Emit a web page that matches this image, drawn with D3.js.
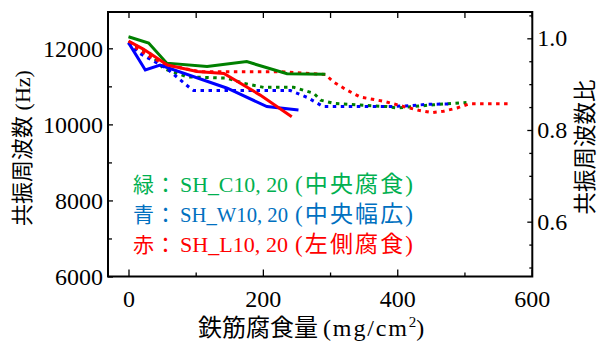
<!DOCTYPE html>
<html><head><meta charset="utf-8">
<script src="https://cdn.jsdelivr.net/npm/d3@7"></script>
<style>
body{margin:0;background:#fff;}
text{font-family:"Liberation Serif","Noto Sans CJK JP",serif;}
</style></head>
<body><svg id="c" width="604" height="343"></svg>
<script>
// Solid lines: resonance frequency (Hz), left axis
const greenHzX = [0, 30, 57, 117, 176, 236, 293];
const greenHzY = [12305, 12140, 11610, 11520, 11650, 11330, 11320];
const blueHzX  = [0, 25, 47, 147, 206, 253];
const blueHzY  = [12150, 11430, 11560, 10950, 10470, 10380];
const redHzX   = [0, 22, 58, 102, 142, 196, 243];
const redHzY   = [12190, 11980, 11560, 11390, 11340, 10770, 10200];
// Dotted lines: resonance frequency ratio, right axis
const greenRX = [0, 32, 52, 87, 147, 171, 201, 246, 276, 286, 306, 385, 400, 454, 503];
const greenRY = [0.993, 0.967, 0.934, 0.916, 0.913, 0.902, 0.893, 0.893, 0.880, 0.865, 0.858, 0.851, 0.848, 0.855, 0.860];
const blueRX  = [0, 17, 57, 92, 97, 166, 241, 266, 290, 385, 420, 445, 479];
const blueRY  = [0.99, 0.967, 0.934, 0.891, 0.886, 0.886, 0.886, 0.871, 0.851, 0.851, 0.853, 0.856, 0.857];
const redRX   = [0, 32, 57, 107, 226, 293, 305, 325, 345, 382, 410, 432, 452, 469, 489, 507, 569];
const redRY   = [0.99, 0.960, 0.942, 0.927, 0.927, 0.921, 0.905, 0.887, 0.872, 0.862, 0.851, 0.843, 0.838, 0.841, 0.848, 0.857, 0.857];

const xTicks = [0, 200, 400, 600];
const xMinor = [100, 300, 500];
const yLeftTicks = [6000, 8000, 10000, 12000];
const yLeftMinor = [7000, 9000, 11000];
const yRightTicks = [0.6, 0.8, 1.0];
const yRightMinor = [0.5, 0.55, 0.65, 0.7, 0.75, 0.85, 0.9, 0.95, 1.05];

const legendKey = ["緑", "青", "赤"];
const legendName = ["SH_C10, 20", "SH_W10, 20", "SH_L10, 20"];
const legendNote = ["(中央腐食)", "(中央幅広)", "(左側腐食)"];
const legendColor = ["#00b050", "#0070c0", "#ff0000"];
const colors = {green: "#008000", blue: "#0000ff", red: "#ff0000"};

const L = 108, R = 532.3, T = 12, B = 276.5;
const svg = d3.select("#c");
const x = d3.scaleLinear().domain([-30.5, 601]).range([L, R]);
const yL = d3.scaleLinear().domain([6000, 12955]).range([B, T]);
const yR = d3.scaleLinear().domain([0.4804, 1.0574]).range([B, T]);

const lineL = d3.line().x(d => x(d[0])).y(d => yL(d[1]));
const lineR = d3.line().x(d => x(d[0])).y(d => yR(d[1]));
const zip = (a, b) => a.map((v, i) => [v, b[i]]);

const g = svg.append("g");
function drawR(xs, ys, c){
  g.append("path").attr("d", lineR(zip(xs, ys))).attr("fill","none")
   .attr("stroke", c).attr("stroke-width", 3).attr("stroke-dasharray","3.5,4.5");
}
function drawL(xs, ys, c){
  g.append("path").attr("d", lineL(zip(xs, ys))).attr("fill","none")
   .attr("stroke", c).attr("stroke-width", 3).attr("stroke-linejoin","miter");
}
drawR(greenRX, greenRY, colors.green);
drawR(blueRX, blueRY, colors.blue);
drawR(redRX, redRY, colors.red);
drawL(greenHzX, greenHzY, colors.green);
drawL(blueHzX, blueHzY, colors.blue);
drawL(redHzX, redHzY, colors.red);

// Axes
const fs = 24;
const axB = svg.append("g").attr("transform",`translate(0,${B})`)
  .call(d3.axisBottom(x).tickValues(xTicks).tickSize(-7).tickPadding(13).tickFormat(d3.format("d")));
const axBm = svg.append("g").attr("transform",`translate(0,${B})`)
  .call(d3.axisBottom(x).tickValues(xMinor).tickSize(-4).tickFormat(""));
const axT = svg.append("g").attr("transform",`translate(0,${T})`)
  .call(d3.axisTop(x).tickValues(xTicks.concat(xMinor)).tickSize(-6).tickFormat(""));
const axL = svg.append("g").attr("transform",`translate(${L},0)`)
  .call(d3.axisLeft(yL).tickValues(yLeftTicks).tickSize(-5).tickPadding(4).tickFormat(d3.format("d")));
const axLm = svg.append("g").attr("transform",`translate(${L},0)`)
  .call(d3.axisLeft(yL).tickValues(yLeftMinor).tickSize(-4).tickFormat(""));
const axR = svg.append("g").attr("transform",`translate(${R},0)`)
  .call(d3.axisRight(yR).tickValues(yRightTicks).tickSize(-5).tickPadding(5).tickFormat(d3.format(".1f")));
const axRm = svg.append("g").attr("transform",`translate(${R},0)`)
  .call(d3.axisRight(yR).tickValues(yRightMinor).tickSize(-3).tickFormat(""));
[axB,axBm,axT,axL,axLm,axR,axRm].forEach(a=>{
  a.select(".domain").remove();
  a.selectAll("line").attr("stroke","#000").attr("stroke-width",1.3);
  a.selectAll("text").attr("font-size",fs).attr("fill","#000")
   .attr("font-family",'"Liberation Serif",serif');
});
axL.selectAll("text").attr("dx","-1");
svg.append("rect").attr("x",L).attr("y",T).attr("width",R-L).attr("height",B-T)
  .attr("fill","none").attr("stroke","#000").attr("stroke-width",2);

// Axis titles
const xt = svg.append("text").attr("y", 336).attr("font-size", 24).attr("fill","#000");
xt.append("tspan").attr("x", 198).text("鉄筋腐食量");
xt.append("tspan").attr("x", 323).attr("textLength", 84).attr("lengthAdjust","spacing").text("(mg/cm");
xt.append("tspan").attr("dy", -9).attr("font-size", 15).text("2");
xt.append("tspan").attr("dy", 9).text(")");
svg.append("text").attr("transform","translate(30,148) rotate(-90)").attr("text-anchor","middle")
  .attr("font-size", 22).attr("fill","#000").text("共振周波数 (Hz)");
svg.append("text").attr("transform","translate(593,147) rotate(-90)").attr("text-anchor","middle")
  .attr("font-size", 22.5).attr("fill","#000").text("共振周波数比");

// Legend text (separate texts so glyph boxes stay apart)
legendKey.forEach((k, i) => {
  const y = 192 + i*30;
  const mk = () => svg.append("text").attr("y", y).attr("font-size", 21).attr("fill", legendColor[i]);
  mk().attr("x", 133).text(k);
  mk().attr("x", 155).text("：");
  mk().attr("x", 180).attr("textLength", 108).attr("lengthAdjust","spacingAndGlyphs").text(legendName[i]);
  mk().attr("x", 295).attr("font-size", 23).attr("textLength", 118).attr("lengthAdjust","spacing").text(legendNote[i]);
});
</script></body></html>
